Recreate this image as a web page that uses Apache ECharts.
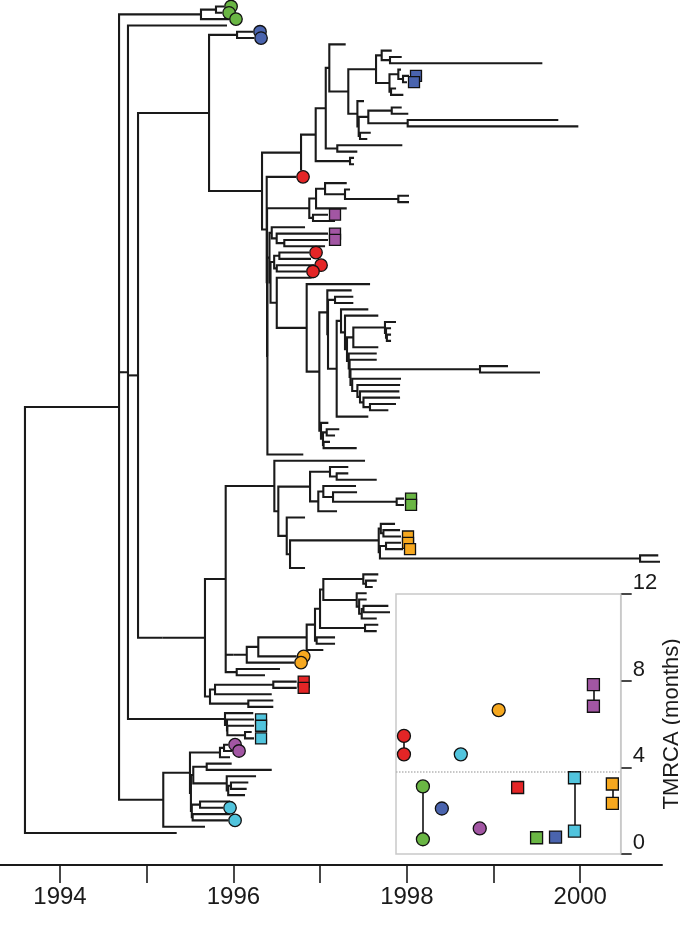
<!DOCTYPE html>
<html><head><meta charset="utf-8">
<script src="https://cdn.jsdelivr.net/npm/echarts@6/dist/echarts.min.js"></script>
<style>html,body{margin:0;padding:0;background:#fff}#c{width:680px;height:929px}</style>
</head><body><div id="c"></div>
<script>
// ---------------- DATA ----------------
// time axis (decimal years)
const yearTicks = [1994, 1995, 1996, 1997, 1998, 1999, 2000];
const yearLabels = [1994, 1996, 1998, 2000];
const yearRange = [1993.308, 2000.943];

// Tree clades, Newick-like: "(child,child)nodeTime"; tips "tipTime" or "tipTime#code"
// code = colour letter (r,g,b,c,p,o) + shape letter (c = circle, s = square)
const cladeN381 = "(1997.826,(1997.941,1999.563)1997.806)1997.710";
const cladeN390 = "((1997.933,(1998.025#bs,1998.002#bs)1997.956)1997.902,(1997.876,1997.960)1997.818)1997.800";
const cladeN368 = "((1997.941,1998.017)1997.826,(1999.747,1999.978)1998.010)1997.556";
const cladeN358 = `(${cladeN368},(1997.584,1997.544)1997.46)1997.445`;
const cladeN348 = `((${cladeN381},${cladeN390})1997.645,(1997.506,${cladeN358})1997.43)1997.325`;
const cladeN325 = `((1997.295,${cladeN348})1997.106,(1997.948,1997.429)1997.198)1997.065`;
const cladeN301 = `((${cladeN325},(1997.391,1997.391)1997.345)1996.949,1996.780)1996.780`;

const cladeP1 = "(((1997.307,(1997.345,(1998.025,1998.025)1997.902)1997.287)1997.057,1997.307)1996.953,(1997.091#ps,1997.172)1996.918)1996.875";
const cladeS1 = "(1996.826,(1997.091#ps,(1997.091#ps,1997.057)1996.587)1996.499)1996.442";
const cladeS4 = "((1996.872#rc,1996.895)1996.53,(1996.930#rc,1996.837#rc)1996.50)1996.47";

const cladeQg = "((1997.875,(1997.818,(1997.818,1997.818)1997.77)1997.76)1997.748,1997.671)1997.383";
const cladeQj = "((1999.167,1999.536)1998.844,(1997.933,(1997.922,(1997.914,(1997.922,(1997.875,1997.787)1997.575)1997.50)1997.46)1997.43)1997.37)1997.35";
const cladeQc = `((1997.556,(1997.671,(${cladeQg},(1997.653,(1997.653,${cladeQj})1997.34)1997.33)1997.31)1997.287)1997.241,1997.556)1997.191`;
const cladeQa = `(1997.364,((1997.383,1997.383)1997.172,${cladeQc})1997.091)1997.083`;
const cladeQb = "(1997.095,((1997.221,1997.172)1997.076,(1997.114,1997.422)1997.04)1997.033)1997.010";
const cladeQ = `(1997.576,(${cladeQa},${cladeQb})1996.991)1996.845`;
const cladeY1 = `(1996.722#rc,(${cladeP1},((${cladeS1},(${cladeS4},(1996.903,${cladeQ})1996.50)1996.428)1996.416,1996.806)1996.392)1996.388)1996.384`;
const cladeG = `((1996.226#bc,1996.238#bc)1996.042,(${cladeN301},${cladeY1})1996.330)1995.719`;

const cladeN310 = "((1997.325,(1997.325,1997.653)1997.191)1997.114,((1997.414,(1997.426,(1997.968#gs,1997.968#gs)1997.883)1997.149)1997.037,1997.195)1996.979)1996.884";
const cladeN378 = "((1997.864,(1997.922,1997.933#os)1997.73)1997.70,((1997.933#os,1997.956#os)1997.76,(2000.90,2000.92)2000.690)1997.69)1997.676";
const cladeN274 = `(1997.518,(${cladeN310},(1996.826,(${cladeN378},1996.826)1996.653)1996.615)1996.518)1996.472`;
const cladeN323 = "((1997.671,(1997.653,1997.607)1997.529)1997.498,(1997.537,(1997.537,((1997.787,1997.806)1997.50,1997.653)1997.48)1997.45)1997.422)1997.037";
const cladeN246 = `((((((${cladeN323},(1997.671,1997.653)1997.518)1996.999,(1997.172,1997.172)1996.96)1996.941,1997.037)1996.845,1996.730#oc)1996.287,1996.699#oc)1996.154`;
const cladeI = `((${cladeN274},${cladeN246})1995.999,(1996.537,1996.364)1996.038)1995.911`;
const cladeH2 = "(((1996.730#rs,1996.730#rs)1996.460,1996.442)1995.788,(1996.460,1996.460)1996.172)1995.730";
const cladeE = `(1995.926,(${cladeG},(${cladeI},${cladeH2})1995.672)1995.185)1994.900`;
const cladeJ = "(1996.229,(1996.238#cs,(1996.238#cs,(1996.211,1996.238#cs)1996.134)1995.93)1995.926)1995.903";
const cladeGreen = "((1995.892#gc,1995.869#gc)1995.799,1995.949#gc)1995.626";
const cladeN220 = "((1995.938#pc,1995.984#pc)1995.892,1995.961)1995.845";
const cladeN193 = "((1995.980,1996.442)1995.692,(1996.261,((1996.172,1996.153)1995.972,1996.134)1995.94)1995.923)1995.537";
const cladeK = `((${cladeN220},(${cladeN193},((1995.961,1995.880#cc)1995.615,(1995.961,1995.938#cc)1995.53)1995.52)1995.51)1995.499,1995.672)1995.191`;
const treeNewick = `(((${cladeGreen},(${cladeE},${cladeJ})1994.784)1994.738,${cladeK})1994.681,1995.346)1993.596`;

// colour groups
const groupColor = { r: '#e42526', g: '#6ab644', b: '#4a64ae', c: '#51c4dd', p: '#a256a3', o: '#f6a81f' };

// inset: TMRCA (months) per group
const insetGroups = ['rc', 'gc', 'bc', 'cc', 'pc', 'oc', 'rs', 'gs', 'bs', 'cs', 'ps', 'os'];
const insetTmrca = [[5.45, 4.6], [3.12, 0.68], [2.1], [4.6], [1.18], [6.64], [3.07], [0.75], [0.78], [3.52, 1.06], [7.82, 6.82], [3.23, 2.34]];
const insetRange = [0, 12];
const insetInterval = 4;
const thresholdMonths = 3.8;

// ---------------- BUILD ----------------
function parseTree(s) {
  let i = 0;
  function num() { const j = i; while (i < s.length && /[0-9.]/.test(s[i])) i++; return parseFloat(s.slice(j, i)); }
  function node() {
    if (s[i] === '(') {
      i++; const ch = [node()];
      while (s[i] === ',') { i++; ch.push(node()); }
      i++; return { t: num(), ch };
    }
    const t = num(); let m = null;
    if (s[i] === '#') { m = s.substr(i + 1, 2); i += 3; }
    return { t, m };
  }
  return node();
}
const tree = parseTree(treeNewick);
let tipIdx = 0;
(function layout(n) {
  if (n.ch) { n.ch.forEach(layout); n.y = (n.ch[0].y + n.ch[n.ch.length - 1].y) / 2; }
  else n.y = tipIdx++;
})(tree);
const segs = [], marks = {};
(function collect(n) {
  if (n.ch) {
    const a = n.ch[0], b = n.ch[n.ch.length - 1];
    segs.push({ coords: [[a.t, a.y], [n.t, a.y], [n.t, b.y], [b.t, b.y]] });
    n.ch.slice(1, -1).forEach(c => segs.push({ coords: [[n.t, c.y], [c.t, c.y]] }));
    n.ch.forEach(collect);
  } else if (n.m) { (marks[n.m] = marks[n.m] || []).push([n.t, n.y]); }
})(tree);
const nTips = tipIdx;

const FONT = "'Liberation Sans', Arial, Helvetica, sans-serif";
const INK = '#1a1a1a';
const series = [];
series.push({
  type: 'lines', coordinateSystem: 'cartesian2d', xAxisIndex: 0, yAxisIndex: 0,
  polyline: true, data: segs, silent: true, z: 2,
  lineStyle: { color: INK, width: 2.1, opacity: 1, join: 'miter', cap: 'butt' }
});
Object.keys(marks).forEach(code => {
  const circ = code[1] === 'c';
  series.push({
    type: 'scatter', xAxisIndex: 0, yAxisIndex: 0, data: marks[code], silent: true, z: 4,
    symbol: circ ? 'circle' : 'rect', symbolSize: circ ? 12.5 : 11, symbolOffset: [7, 0],
    itemStyle: { color: groupColor[code[0]], borderColor: '#111', borderWidth: 1.3, opacity: 1 }
  });
});
// inset connectors
const conn = [];
insetTmrca.forEach((v, i) => { if (v.length > 1) conn.push({ coords: [[i, v[0]], [i, v[v.length - 1]]] }); });
series.push({
  type: 'lines', coordinateSystem: 'cartesian2d', xAxisIndex: 1, yAxisIndex: 1,
  data: conn, silent: true, z: 6, lineStyle: { color: '#111', width: 1.6, opacity: 1 }
});
['c', 's'].forEach(shape => {
  const pts = [];
  insetTmrca.forEach((v, i) => {
    if (insetGroups[i][1] !== shape) return;
    v.forEach(val => pts.push({ value: [i, val], itemStyle: { color: groupColor[insetGroups[i][0]] } }));
  });
  const s = {
    type: 'scatter', xAxisIndex: 1, yAxisIndex: 1, data: pts, silent: true, z: 7,
    symbol: shape === 'c' ? 'circle' : 'rect', symbolSize: shape === 'c' ? 13 : 12,
    itemStyle: { borderColor: '#111', borderWidth: 1.3, opacity: 1 }
  };
  if (shape === 'c') s.markLine = {
    silent: true, symbol: ['none', 'none'], label: { show: false }, animation: false,
    lineStyle: { type: 'dotted', color: '#b5b5b5', width: 1.5 }, data: [{ yAxis: thresholdMonths }]
  };
  series.push(s);
});

const chart = echarts.init(document.getElementById('c'), null, { renderer: 'canvas' });
chart.setOption({
  animation: false,
  backgroundColor: '#fff',
  textStyle: { fontFamily: FONT },
  grid: [
    { left: 0, right: 18, top: 0, bottom: 64, containLabel: false, outerBoundsMode: 'none' },
    { left: 396, top: 594, width: 224.7, height: 260, containLabel: false, outerBoundsMode: 'none', show: true, backgroundColor: '#fff', borderColor: '#c9c9c9', borderWidth: 1.5, z: 3 }
  ],
  xAxis: [
    {
      gridIndex: 0, type: 'value', min: yearRange[0], max: yearRange[1],
      axisLine: { show: true, onZero: false, lineStyle: { color: INK, width: 2 } },
      axisTick: { show: true, customValues: yearTicks, length: 18, lineStyle: { color: INK, width: 1.6 } },
      axisLabel: { show: true, customValues: yearLabels, formatter: v => String(v), fontSize: 24, color: INK, margin: 20, fontFamily: FONT },
      splitLine: { show: false }
    },
    { gridIndex: 1, type: 'value', min: -0.42, max: 11.44, show: false }
  ],
  yAxis: [
    { gridIndex: 0, type: 'value', inverse: true, min: -1.03, max: nTips - 1 + 5.07, show: false },
    {
      gridIndex: 1, type: 'value', min: insetRange[0], max: insetRange[1], interval: insetInterval, position: 'right',
      axisLine: { show: true, onZero: false, lineStyle: { color: '#c9c9c9', width: 1.5 } },
      splitLine: { show: false },
      axisTick: { show: true, inside: false, length: 11, lineStyle: { color: INK, width: 1.6 } },
      axisLabel: { show: true, fontSize: 22, color: INK, margin: 12, verticalAlign: 'bottom', align: 'left', fontFamily: FONT },
      name: 'TMRCA (months)', nameLocation: 'middle', nameRotate: 90, nameGap: 36,
      nameTextStyle: { fontSize: 22, color: INK, fontFamily: FONT }
    }
  ],
  series
});
</script>
</body></html>
